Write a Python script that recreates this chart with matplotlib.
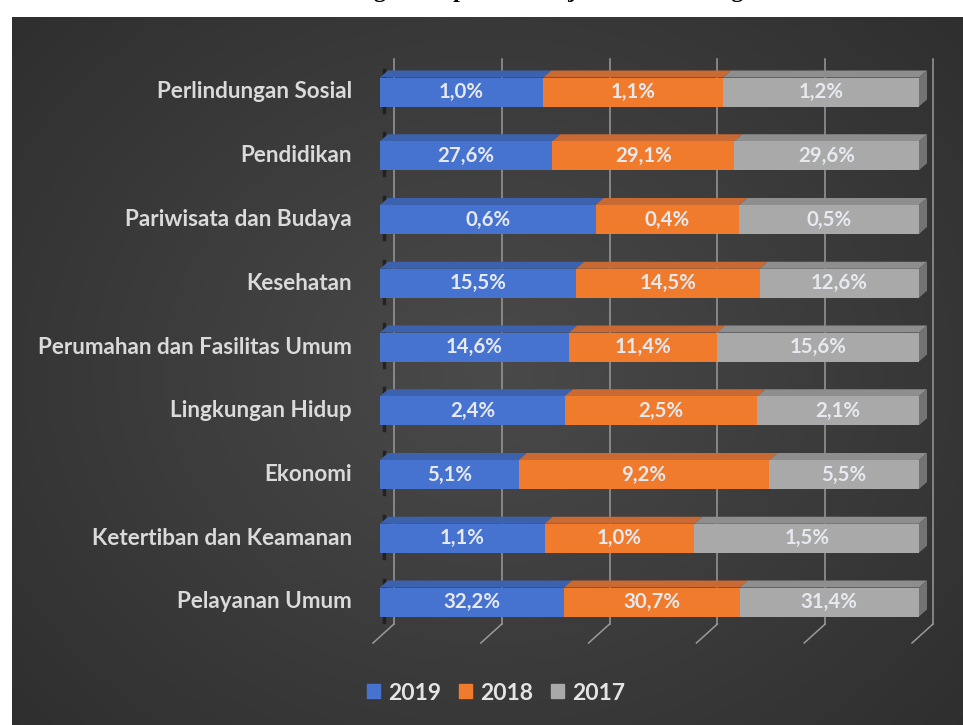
import numpy as np
import matplotlib.pyplot as plt
from matplotlib.patches import Polygon

categories = [
    "Pelayanan Umum",
    "Ketertiban dan Keamanan",
    "Ekonomi",
    "Lingkungan Hidup",
    "Perumahan dan Fasilitas Umum",
    "Kesehatan",
    "Pariwisata dan Budaya",
    "Pendidikan",
    "Perlindungan Sosial",
]
years = ["2019", "2018", "2017"]
v2019 = [32.2, 1.1, 5.1, 2.4, 14.6, 15.5, 0.6, 27.6, 1.0]
v2018 = [30.7, 1.0, 9.2, 2.5, 11.4, 14.5, 0.4, 29.1, 1.1]
v2017 = [31.4, 1.5, 5.5, 2.1, 15.6, 12.6, 0.5, 29.6, 1.2]

front_colors = ["#4673cf", "#f07b2c", "#a9a9a9"]
top_colors = ["#3d62ad", "#c96a35", "#8e8e8e"]
side_colors = ["#33528f", "#a85a2c", "#737373"]

W, H = 963, 725
fig = plt.figure(figsize=(W / 100, H / 100), dpi=100)
fig.patch.set_facecolor("white")

# dark panel with soft radial gradient
bg = fig.add_axes([12 / W, 0, (W - 12) / W, (H - 17) / H])
yy, xx = np.mgrid[0:1:300j, 0:1:400j]
r = np.sqrt(((xx - 0.5) / 0.75) ** 2 + ((yy - 0.5) / 0.85) ** 2)
shade = np.clip(0.29 - 0.12 * r, 0.16, 0.3)
bg.imshow(np.dstack([shade] * 3), aspect="auto", extent=[0, 1, 0, 1])
bg.set_axis_off()

# title is cropped at the top edge, as in the source image
title = "Grafik 3.10 Perbandingan Proporsi Belanja Menurut Fungsi"
fig.text(0.47, 1.0 + 19.5 / H, title, ha="center", va="top",
         family="Liberation Serif", weight="bold", fontsize=17, color="black")

# plot axes: data x in [0, 1] (share), y = category index
px0, px1 = 380, 919
y0_px, step = 602, 63.75
ylo, yhi = -0.75, 8.65
bot_px = y0_px - ylo * step
top_px = y0_px - yhi * step
ax = fig.add_axes([px0 / W, (H - bot_px) / H, (px1 - px0) / W, (bot_px - top_px) / H])
ax.set_xlim(0, 1)
ax.set_ylim(ylo, yhi)
ax.set_axis_off()

xs = 1.0 / (px1 - px0)
ys = 1.0 / step

# back-wall gridlines and floor slashes
back_dx = 14 * xs
for k in range(6):
    gx = k * 0.2 + back_dx
    ax.plot([gx, gx], [yhi - 8 * ys, -22 * ys], color="#9a9a9a", lw=1.1,
            clip_on=False, zorder=1)
    ax.plot([gx, gx - 21 * xs], [-22 * ys, -41 * ys], color="#9a9a9a",
            lw=1.1, clip_on=False, zorder=1)

bh = 29 * ys
ddx, ddy = 8 * xs, 7 * ys
series = [v2019, v2018, v2017]
for i, cat in enumerate(categories):
    total = v2019[i] + v2018[i] + v2017[i]
    left = 0.0
    for s, vals in enumerate(series):
        w = vals[i] / total
        yb, yt = i - bh / 2, i + bh / 2
        top = Polygon([[left, yt], [left + w, yt], [left + w + ddx, yt + ddy],
                       [left + ddx, yt + ddy]], closed=True,
                      facecolor=top_colors[s], edgecolor="none", zorder=3,
                      clip_on=False)
        ax.add_patch(top)
        ax.barh(i, w, left=left, height=bh, color=front_colors[s],
                edgecolor="none", zorder=4)
        if s == 2:
            side = Polygon([[left + w, yb], [left + w + ddx, yb + ddy],
                            [left + w + ddx, yt + ddy], [left + w, yt]],
                           closed=True, facecolor=side_colors[s],
                           edgecolor="none", zorder=3, clip_on=False)
            ax.add_patch(side)
        label = f"{vals[i]:.1f}%".replace(".", ",")
        ax.text(left + w / 2, i, label, ha="center", va="center",
                color="#e6e9ef", fontsize=14.7, weight="bold", family="Lato",
                zorder=5)
        left += w
    # dark stub of the 3D category axis
    ax.plot([4 * xs, 4 * xs], [i - bh / 2 - 5 * ys, i + bh / 2 + 8 * ys],
            color="#151515", lw=2.5, alpha=0.7, zorder=2, clip_on=False)
    ax.text(-28 * xs, i, cat, ha="right", va="center", color="#dadada",
            fontsize=16.2, weight="bold", family="Lato", clip_on=False)

# legend
handles = [plt.Rectangle((0, 0), 1, 1, color=c) for c in front_colors]
fig.legend(handles, years, loc="center", bbox_to_anchor=(496 / W, 1 - 693 / H),
           ncol=3, frameon=False, handlelength=0.55, handleheight=0.55,
           handletextpad=0.35, columnspacing=0.8,
           prop={"family": "Lato", "weight": "bold", "size": 16.5},
           labelcolor="#e4e4e4")

fig.savefig("out.png", dpi=100, facecolor=fig.get_facecolor())
